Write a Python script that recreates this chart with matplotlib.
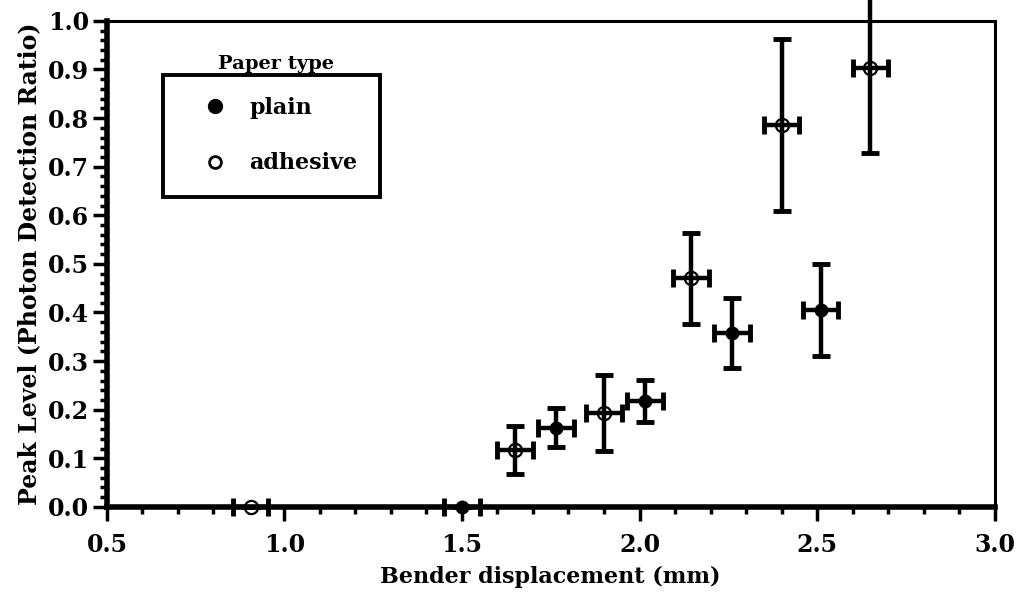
import numpy as np
import matplotlib
matplotlib.use("Agg")
from matplotlib import pyplot as plt
from matplotlib.ticker import MultipleLocator, FormatStrFormatter

# plain paper
plainX = [1.50, 1.765, 2.015, 2.26, 2.51]
plainY = [0.0, 0.163, 0.218, 0.358, 0.405]
plainYerr = [0.0, 0.040, 0.043, 0.072, 0.095]
plainXerr = [0.05, 0.05, 0.05, 0.05, 0.05]

# adhesive paper
adhX = [0.905, 1.65, 1.90, 2.145, 2.40, 2.65]
adhY = [0.0, 0.117, 0.193, 0.470, 0.786, 0.903]
adhYerr = [0.0, 0.050, 0.078, 0.093, 0.177, 0.175]
adhXerr = [0.05, 0.05, 0.05, 0.05, 0.05, 0.05]

xTicks = [0.5, 1.0, 1.5, 2.0, 2.5, 3.0]
yTicks = [0.0, 0.1, 0.2, 0.3, 0.4, 0.5, 0.6, 0.7, 0.8, 0.9, 1.0]

plt.rcParams['font.family'] = ['DejaVu Serif']
plt.rcParams['font.weight'] = 'bold'

fig = plt.figure(figsize=(10.18, 5.97), dpi=100)
ax = fig.add_axes([0.105, 0.151, 0.872, 0.814])

# markers first, error bars drawn over them
ax.plot(plainX, plainY, ls='', marker='o', markersize=9, color='black',
        clip_on=False, zorder=2)
ax.plot(adhX, adhY, ls='', marker='o', markersize=9.5, markerfacecolor='white',
        markeredgecolor='black', markeredgewidth=1.6, clip_on=False, zorder=2)

ebStyle = dict(fmt='none', ecolor='black', elinewidth=3.2,
               capsize=6.5, capthick=3.5, clip_on=False, zorder=3)
ax.errorbar(plainX, plainY, yerr=plainYerr, xerr=plainXerr, **ebStyle)
ax.errorbar(adhX, adhY, yerr=adhYerr, xerr=adhXerr, **ebStyle)

ax.set_xlim(0.5, 3.0)
ax.set_ylim(0.0, 1.0)
ax.set_xticks(xTicks)
ax.set_yticks(yTicks)
ax.xaxis.set_major_formatter(FormatStrFormatter('%.1f'))
ax.yaxis.set_major_formatter(FormatStrFormatter('%.1f'))
ax.xaxis.set_minor_locator(MultipleLocator(0.1))
ax.yaxis.set_minor_locator(MultipleLocator(0.02))
ax.tick_params(axis='both', which='major', direction='out', length=10, width=2.5,
               labelsize=17, pad=3)
ax.tick_params(axis='x', which='major', pad=9)
ax.tick_params(axis='both', which='minor', direction='out', length=5, width=2.5)
ax.tick_params(top=False, right=False)

for side in ['left', 'bottom']:
    ax.spines[side].set_linewidth(4)
for side in ['top', 'right']:
    ax.spines[side].set_linewidth(2.2)

ax.set_xlabel("Bender displacement (mm)", fontsize=16, fontweight='bold', labelpad=6)
ax.set_ylabel("Peak Level (Photon Detection Ratio)", fontsize=17, fontweight='bold', labelpad=5)

handles = [plt.Line2D([], [], ls='', marker='o', markersize=10, color='black'),
           plt.Line2D([], [], ls='', marker='o', markersize=8.5, markerfacecolor='white',
                      markeredgecolor='black', markeredgewidth=2)]
leg = ax.legend(handles, ['plain', 'adhesive'], loc='upper left',
                bbox_to_anchor=(0.063, 0.889), fontsize=16, frameon=True,
                fancybox=False, borderpad=1.0, labelspacing=1.5,
                handletextpad=0.2, handlelength=2.7, borderaxespad=0)
leg.get_frame().set_edgecolor('black')
leg.get_frame().set_linewidth(2.8)
leg.get_frame().set_alpha(1)
ax.text(0.125, 0.893, "Paper type", transform=ax.transAxes, fontsize=14,
        fontweight='bold', va='bottom', ha='left')

fig.savefig("out.png", dpi=100)
